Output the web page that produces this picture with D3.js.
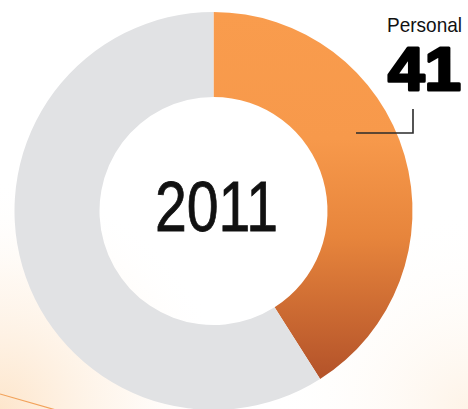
<!DOCTYPE html>
<html>
<head>
<meta charset="utf-8">
<script src="https://cdn.jsdelivr.net/npm/d3@7"></script>
<style>
  html, body { margin: 0; padding: 0; background: #fff; }
  svg { display: block; }
</style>
</head>
<body>
<div id="divID"></div>
<script>

var categories = ["Personal", "Other"];
var values = [41, 59];
var year = "2011";
var labelCategory = "Personal";

var width = 468;
var height = 409;
var cx = 213.5;                 // center of the ring
var cy = 211;
var outerR = 199;
var innerR = 114;

var svg = d3.select("#divID").append("svg")
    .attr("id", "svgID")
    .attr("width", width)
    .attr("height", height);

var defs = svg.append("defs");

// faint warm glow in the lower left corner
var glow = defs.append("radialGradient")
    .attr("id", "glow")
    .attr("gradientUnits", "userSpaceOnUse")
    .attr("cx", 0).attr("cy", 409).attr("r", 230);
glow.append("stop").attr("offset", "0%").attr("stop-color", "#fde3c6").attr("stop-opacity", 0.9);
glow.append("stop").attr("offset", "55%").attr("stop-color", "#fef1e3").attr("stop-opacity", 0.5);
glow.append("stop").attr("offset", "100%").attr("stop-color", "#ffffff").attr("stop-opacity", 0);

var glow2 = defs.append("radialGradient")
    .attr("id", "glow2")
    .attr("gradientUnits", "userSpaceOnUse")
    .attr("cx", 468).attr("cy", 409).attr("r", 200);
glow2.append("stop").attr("offset", "0%").attr("stop-color", "#fdeedd").attr("stop-opacity", 0.7);
glow2.append("stop").attr("offset", "100%").attr("stop-color", "#ffffff").attr("stop-opacity", 0);

// orange slice gets lighter at the top, darker at the bottom (coords are local to the ring group)
var orange = defs.append("linearGradient")
    .attr("id", "orangeGrad")
    .attr("gradientUnits", "userSpaceOnUse")
    .attr("x1", 0).attr("y1", -outerR)
    .attr("x2", 0).attr("y2", outerR * 0.82);
orange.append("stop").attr("offset", "0%").attr("stop-color", "#f99c4d");
orange.append("stop").attr("offset", "35%").attr("stop-color", "#f7994b");
orange.append("stop").attr("offset", "62%").attr("stop-color", "#e7853c");
orange.append("stop").attr("offset", "100%").attr("stop-color", "#b5542a");

svg.append("rect").attr("width", width).attr("height", height).attr("fill", "#fff");
svg.append("rect").attr("width", width).attr("height", height).attr("fill", "url(#glow)");
svg.append("rect").attr("width", width).attr("height", height).attr("fill", "url(#glow2)");

// thin orange stroke running off the bottom left
svg.append("line")
    .attr("x1", 0).attr("y1", 394)
    .attr("x2", 56).attr("y2", 410)
    .style("stroke", "#f2a25a")
    .style("stroke-width", 1.2);

var pie = d3.pie().sort(null).value(function (d) { return d; });
var arc = d3.arc().innerRadius(innerR).outerRadius(outerR);
var fills = ["url(#orangeGrad)", "#e1e2e4"];

var ring = svg.append("g").attr("transform", "translate(" + cx + "," + cy + ")");

ring.selectAll(".slice")
    .data(pie(values))
    .enter().append("path")
    .attr("class", "slice")
    .attr("id", function (d, i) { return "slice" + categories[i]; })
    .attr("d", arc)
    .style("fill", function (d, i) { return fills[i]; });

// year in the hole
svg.append("text")
    .attr("x", cx + 3)
    .attr("y", 231)
    .attr("text-anchor", "middle")
    .attr("textLength", 123)
    .attr("lengthAdjust", "spacingAndGlyphs")
    .style("font-family", "'Liberation Sans Narrow', 'Liberation Sans', Arial, sans-serif")
    .style("font-size", "71px")
    .style("fill", "#111")
    .style("stroke", "#111")
    .style("stroke-width", 0.8)
    .text(year);

// label + big number
var idx = categories.indexOf(labelCategory);

svg.append("text")
    .attr("x", 462)
    .attr("y", 32)
    .attr("text-anchor", "end")
    .attr("textLength", 75)
    .attr("lengthAdjust", "spacingAndGlyphs")
    .style("font-family", "'Liberation Sans Narrow', 'Liberation Sans', Arial, sans-serif")
    .style("font-size", "21px")
    .style("fill", "#111")
    .text(labelCategory);

svg.append("text")
    .attr("x", 461)
    .attr("y", 90)
    .attr("text-anchor", "end")
    .attr("textLength", 73)
    .attr("lengthAdjust", "spacingAndGlyphs")
    .style("font-family", "'Liberation Sans', Arial, sans-serif")
    .style("font-weight", "bold")
    .style("font-size", "62px")
    .style("fill", "#000")
    .style("stroke", "#000")
    .style("stroke-width", 3)
    .style("stroke-linejoin", "round")
    .text(values[idx]);

// leader line into the slice
svg.append("path")
    .attr("d", d3.line()([[413, 109], [413, 133], [356, 133]]))
    .style("fill", "none")
    .style("stroke", "#2b2b2b")
    .style("stroke-width", 1.6);

</script>
</body>
</html>
